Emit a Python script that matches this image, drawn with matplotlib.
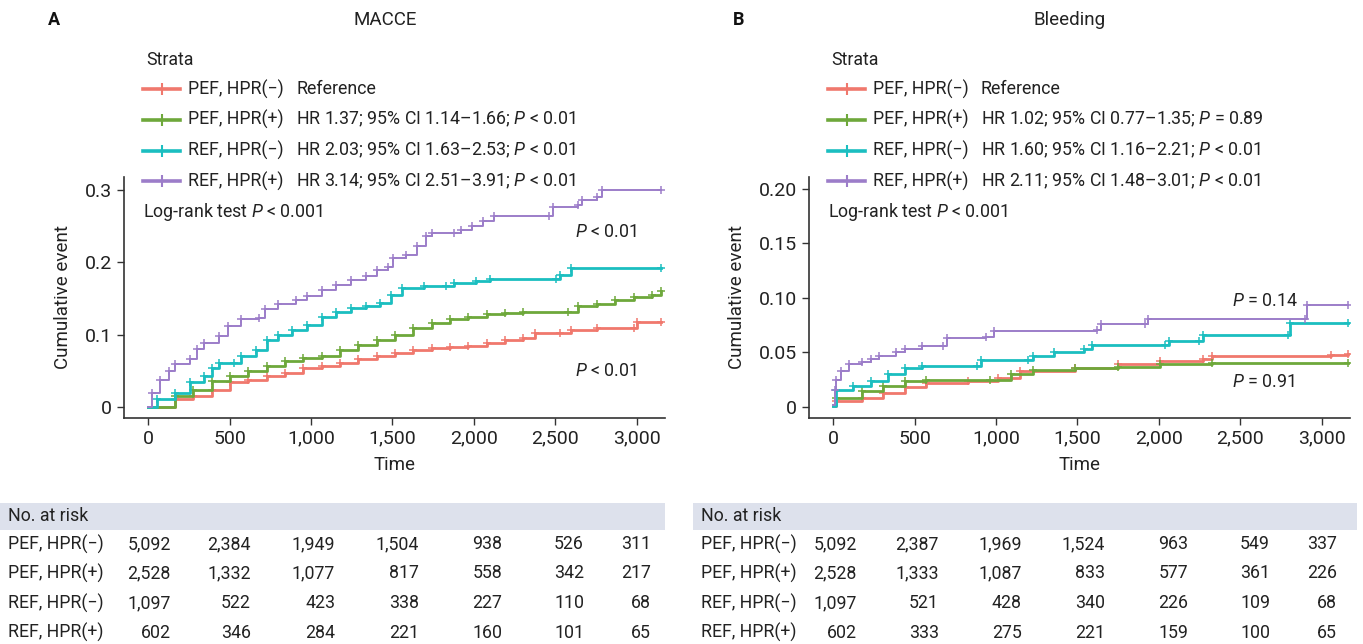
import matplotlib
matplotlib.use("Agg")
import matplotlib.pyplot as plt
from matplotlib.lines import Line2D

plt.rcParams['font.family'] = ['Roboto', 'DejaVu Sans']
plt.rcParams['mathtext.fontset'] = 'custom'
plt.rcParams['mathtext.it'] = 'Roboto:italic'
plt.rcParams['mathtext.rm'] = 'Roboto'

W, H = 1363, 644
groups = ['PEF, HPR(−)', 'PEF, HPR(+)', 'REF, HPR(−)', 'REF, HPR(+)']
colors = ['#F0786D', '#6EA83B', '#1BBEC0', '#9C7DC9']
risk_times = [0, 500, 1000, 1500, 2000, 2500, 3000]

# MACCE curves (time, cumulative event)
macce_t = {
    'PEF, HPR(−)': [0, 162, 275, 388, 500, 613, 726, 839, 952, 1065, 1178, 1290, 1403, 1516, 1629, 1741, 1854, 1966, 2079, 2192, 2305, 2373, 2531, 2598, 2756, 2982, 3004, 3151],
    'PEF, HPR(+)': [0, 162, 275, 388, 500, 613, 726, 839, 952, 1065, 1178, 1290, 1403, 1516, 1629, 1741, 1854, 1966, 2079, 2192, 2305, 2576, 2643, 2756, 2869, 2982, 3095, 3151],
    'REF, HPR(−)': [0, 50, 162, 253, 343, 388, 433, 523, 568, 659, 731, 794, 884, 975, 1065, 1155, 1245, 1335, 1425, 1493, 1561, 1696, 1831, 1877, 2012, 2102, 2508, 2531, 2598, 3151],
    'REF, HPR(+)': [0, 20, 72, 129, 162, 253, 298, 343, 433, 489, 568, 681, 715, 794, 907, 975, 1065, 1155, 1245, 1335, 1403, 1470, 1504, 1583, 1651, 1708, 1741, 1876, 1922, 1989, 2057, 2125, 2463, 2486, 2643, 2666, 2756, 2790, 3151],
}
macce_v = {
    'PEF, HPR(−)': [0, 0.011, 0.015, 0.024, 0.034, 0.038, 0.043, 0.047, 0.054, 0.057, 0.061, 0.066, 0.070, 0.075, 0.079, 0.082, 0.083, 0.085, 0.089, 0.092, 0.096, 0.102, 0.102, 0.107, 0.109, 0.109, 0.118, 0.118],
    'PEF, HPR(+)': [0, 0.015, 0.024, 0.036, 0.043, 0.050, 0.057, 0.063, 0.068, 0.070, 0.079, 0.086, 0.093, 0.100, 0.109, 0.116, 0.121, 0.124, 0.129, 0.130, 0.132, 0.132, 0.139, 0.142, 0.148, 0.152, 0.155, 0.160],
    'REF, HPR(−)': [0, 0.011, 0.020, 0.034, 0.043, 0.054, 0.061, 0.061, 0.070, 0.079, 0.093, 0.100, 0.107, 0.114, 0.125, 0.132, 0.137, 0.139, 0.144, 0.155, 0.164, 0.167, 0.167, 0.171, 0.174, 0.177, 0.177, 0.183, 0.192, 0.192],
    'REF, HPR(+)': [0, 0.020, 0.038, 0.050, 0.059, 0.066, 0.080, 0.089, 0.098, 0.112, 0.121, 0.123, 0.135, 0.142, 0.148, 0.153, 0.162, 0.169, 0.176, 0.181, 0.190, 0.194, 0.206, 0.210, 0.222, 0.236, 0.240, 0.240, 0.245, 0.250, 0.257, 0.264, 0.264, 0.277, 0.279, 0.286, 0.290, 0.300, 0.300],
}

# Bleeding curves
bleed_t = {
    'PEF, HPR(−)': [0, 18, 176, 306, 438, 568, 830, 1014, 1145, 1486, 1748, 2010, 2272, 2324, 3057, 3162],
    'PEF, HPR(+)': [0, 18, 176, 306, 438, 568, 961, 1092, 1224, 1486, 1748, 2010, 2324, 3162],
    'REF, HPR(−)': [0, 18, 123, 228, 333, 438, 542, 883, 909, 1197, 1224, 1355, 1538, 1590, 2036, 2062, 2245, 2272, 2796, 2809, 3162],
    'REF, HPR(+)': [0, 10, 18, 45, 97, 176, 228, 280, 385, 438, 542, 673, 700, 935, 988, 1617, 1643, 1918, 1931, 2900, 2913, 3162],
}
bleed_v = {
    'PEF, HPR(−)': [0.001, 0.0055, 0.0085, 0.013, 0.018, 0.022, 0.024, 0.027, 0.033, 0.036, 0.039, 0.042, 0.044, 0.047, 0.048, 0.049],
    'PEF, HPR(+)': [0.002, 0.0085, 0.015, 0.019, 0.024, 0.025, 0.025, 0.030, 0.034, 0.036, 0.037, 0.039, 0.0405, 0.0405],
    'REF, HPR(−)': [0.001, 0.016, 0.019, 0.024, 0.030, 0.036, 0.038, 0.038, 0.043, 0.043, 0.047, 0.050, 0.053, 0.057, 0.057, 0.061, 0.061, 0.066, 0.066, 0.077, 0.077],
    'REF, HPR(+)': [0.002, 0.016, 0.025, 0.033, 0.039, 0.041, 0.044, 0.047, 0.050, 0.053, 0.056, 0.056, 0.063, 0.064, 0.070, 0.071, 0.076, 0.076, 0.081, 0.081, 0.094, 0.094],
}

macce_legend = ['Reference',
                r'HR 1.37; 95% CI 1.14–1.66; $\it{P}$ < 0.01',
                r'HR 2.03; 95% CI 1.63–2.53; $\it{P}$ < 0.01',
                r'HR 3.14; 95% CI 2.51–3.91; $\it{P}$ < 0.01']
bleed_legend = ['Reference',
                r'HR 1.02; 95% CI 0.77–1.35; $\it{P}$ = 0.89',
                r'HR 1.60; 95% CI 1.16–2.21; $\it{P}$ < 0.01',
                r'HR 2.11; 95% CI 1.48–3.01; $\it{P}$ < 0.01']

macce_risk = [[5092, 2384, 1949, 1504, 938, 526, 311],
              [2528, 1332, 1077, 817, 558, 342, 217],
              [1097, 522, 423, 338, 227, 110, 68],
              [602, 346, 284, 221, 160, 101, 65]]
bleed_risk = [[5092, 2387, 1969, 1524, 963, 549, 337],
              [2528, 1333, 1087, 833, 577, 361, 226],
              [1097, 521, 428, 340, 226, 109, 68],
              [602, 333, 275, 221, 159, 100, 65]]


def fx(x):
    return x / W


def fy(y):
    return 1 - y / H


fig = plt.figure(figsize=(13.63, 6.44), dpi=100)
txt = '#222222'
fs = 12.8


def panel(left, letter, title, t_data, v_data, ylim, yticks, yticklabels,
          legend_txt, notes, risk, band, risk_cols):
    ax = fig.add_axes([fx(left), fy(418), fx(541), (418 - 177) / H])
    for g, c in zip(groups, colors):
        lw = 1.4 if g == 'REF, HPR(+)' else 2.0
        ax.step(t_data[g], v_data[g], where='post', color=c, lw=lw)
        ax.plot(t_data[g][1:], v_data[g][1:], ls='none', marker='+', ms=6, mew=1.1, color=c)
    ax.set_xlim(-150, 3175)
    ax.set_ylim(*ylim)
    ax.set_xticks(risk_times)
    ax.set_xticklabels(['0', '500', '1,000', '1,500', '2,000', '2,500', '3,000'])
    ax.set_yticks(yticks)
    ax.set_yticklabels(yticklabels)
    for s in ['top', 'right']:
        ax.spines[s].set_visible(False)
    for s in ['left', 'bottom']:
        ax.spines[s].set_color('#333333')
        ax.spines[s].set_linewidth(1.2)
    ax.tick_params(labelsize=14, colors='#333333', labelcolor=txt, length=5, width=1)
    ax.set_xlabel('Time', fontsize=13.5, color=txt, labelpad=6)
    ax.set_ylabel('Cumulative event', fontsize=13.5, color=txt, labelpad=9)
    fig.text(fx(left + 19), fy(212), r'Log-rank test $\it{P}$ < 0.001', fontsize=fs,
             color=txt, va='center')
    for x, y, s in notes:
        fig.text(fx(x), fy(y), s, fontsize=fs, color=txt, va='center')

    fig.text(fx(left - 76), fy(20), letter, fontsize=13, fontweight='bold', color='#111111', va='center')
    fig.text(fx(left + 261), fy(20), title, fontsize=13.5, color=txt, va='center', ha='center')

    # legend
    lx = left + 19
    fig.text(fx(lx + 3), fy(60), 'Strata', fontsize=fs, color=txt, va='center')
    for i, (g, c) in enumerate(zip(groups, colors)):
        yy = 89 + i * 30.8
        fig.add_artist(Line2D([fx(lx), fx(lx + 37)], [fy(yy), fy(yy)], color=c, lw=2.6))
        fig.add_artist(Line2D([fx(lx + 18.5)], [fy(yy)], marker='+', ms=9, mew=1.5, color=c))
        fig.text(fx(lx + 45), fy(yy), g, fontsize=fs, color=txt, va='center')
        fig.text(fx(lx + 153), fy(yy), legend_txt[i], fontsize=fs, color=txt, va='center')

    # number at risk table
    bx0, bx1 = band
    fig.patches.append(plt.Rectangle((fx(bx0), fy(530)), fx(bx1 - bx0), (530 - 503) / H,
                                     transform=fig.transFigure, facecolor='#DDE1EC',
                                     edgecolor='none'))
    fig.text(fx(bx0 + 8), fy(516), 'No. at risk', fontsize=fs, color=txt, va='center')
    for r, (g, row) in enumerate(zip(groups, risk)):
        yy = 544 + r * 29.5
        fig.text(fx(bx0 + 8), fy(yy), g, fontsize=fs, color=txt, va='center')
        for cx, n in zip(risk_cols, row):
            fig.text(fx(cx), fy(yy), f'{n:,}', fontsize=fs, color=txt, va='center', ha='right')
    return ax


panel(124, 'A', 'MACCE', macce_t, macce_v, (-0.0152, 0.318),
      [0, 0.1, 0.2, 0.3], ['0', '0.1', '0.2', '0.3'], macce_legend,
      [(575, 232, r'$\it{P}$ < 0.01'), (575, 371, r'$\it{P}$ < 0.01')],
      macce_risk, (0, 665), [171, 251, 335, 419, 502, 584, 651])

panel(809, 'B', 'Bleeding', bleed_t, bleed_v, (-0.0101, 0.211),
      [0, 0.05, 0.10, 0.15, 0.20], ['0', '0.05', '0.10', '0.15', '0.20'], bleed_legend,
      [(1232, 301, r'$\it{P}$ = 0.14'), (1232, 382, r'$\it{P}$ = 0.91')],
      bleed_risk, (693, 1357), [857, 939, 1022, 1105, 1188, 1270, 1337])

fig.savefig('out.png', dpi=100)
